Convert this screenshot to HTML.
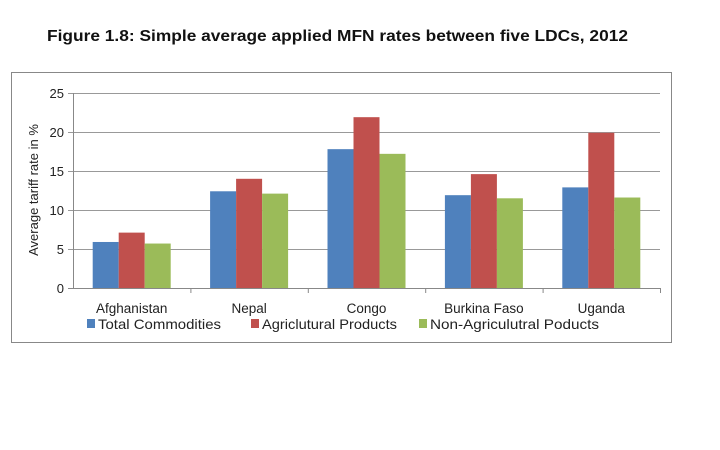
<!DOCTYPE html>
<html><head><meta charset="utf-8"><style>
body{margin:0;background:#fff;width:720px;height:450px;overflow:hidden}
svg{display:block}
</style></head><body>
<svg width="720" height="450" xmlns="http://www.w3.org/2000/svg">
<text x="47" y="41" textLength="581" lengthAdjust="spacingAndGlyphs" font-family="Liberation Sans, sans-serif" font-weight="bold" font-size="16" fill="#111">Figure 1.8: Simple average applied MFN rates between five LDCs, 2012</text>
<rect x="11.5" y="72.5" width="660" height="270" fill="#fff" stroke="#888"/>
<g id="grid"></g><g id="bars"></g><g id="axes"></g>
<text transform="translate(38,190) rotate(-90)" text-anchor="middle" font-family="Liberation Sans, sans-serif" font-size="13" fill="#222">Average tariff rate in %</text>
<g id="legend"></g>
</svg>
<script>
const categories=["Afghanistan","Nepal","Congo","Burkina Faso","Uganda"];
const seriesNames=["Total Commodities","Agriclutural Products","Non-Agriculutral Poducts"];
const totalVals=[5.9,12.4,17.8,11.9,12.9];
const agriVals=[7.1,14.0,21.9,14.6,19.9];
const nonAgriVals=[5.7,12.1,17.2,11.5,11.6];
const yTicks=[0,5,10,15,20,25];
const colors=["#4f81bd","#c0504d","#9bbb59"];
const NS="http://www.w3.org/2000/svg";
const x0=73,x1=660,y0=288,yTop=93,yMax=25;
const y=v=>y0-(v/yMax)*(y0-yTop);
const cw=(x1-x0)/categories.length;
function mk(t,a,p){const e=document.createElementNS(NS,t);for(const k in a)e.setAttribute(k,a[k]);p.appendChild(e);return e;}
const grid=document.getElementById('grid'),bars=document.getElementById('bars'),axes=document.getElementById('axes'),leg=document.getElementById('legend');
yTicks.forEach(t=>{
  const l=mk('line',{x1:x0-5,x2:x1,y1:y(t)+.5,y2:y(t)+.5,stroke:t===0?'#888':'#999','stroke-width':1},grid);
  
  
  const tx=mk('text',{x:x0-9,y:y(t)+5,'text-anchor':'end','font-family':'Liberation Sans, sans-serif','font-size':13,fill:'#222'},axes);
  tx.textContent=t;
  
  
});
mk('line',{x1:x0+.5,x2:x0+.5,y1:yTop,y2:y0,stroke:'#888'},axes);
const series=[totalVals,agriVals,nonAgriVals];
const bw=26;
categories.forEach((c,i)=>{
  const cx=x0+cw*(i+0.5);
  series.forEach((s,j)=>{
    const bx=cx-1.5*bw+j*bw;
    const r=mk('rect',{x:bx,y:y(s[i]),width:bw,height:y0-y(s[i]),fill:colors[j]},bars);
    
    
  });
  mk('line',{x1:x0+cw*(i+1)+.5,x2:x0+cw*(i+1)+.5,y1:y0,y2:y0+5,stroke:'#888'},axes);
  const tx=mk('text',{x:cx,y:313,'text-anchor':'middle','font-family':'Liberation Sans, sans-serif','font-size':13.5,fill:'#222'},axes);
  tx.textContent=c;
  
  
});
const lx=[87,251,419];
const lw=[123,135,169];
seriesNames.forEach((n,j)=>{
  const g=mk('g',{},leg);
  
  
  mk('rect',{x:lx[j],y:319,width:8,height:9,fill:colors[j]},g);
  const t=mk('text',{x:lx[j]+11,y:329,textLength:lw[j],lengthAdjust:'spacingAndGlyphs','font-family':'Liberation Sans, sans-serif','font-size':14,fill:'#222'},g);
  t.textContent=n;
});
</script>
</body></html>
